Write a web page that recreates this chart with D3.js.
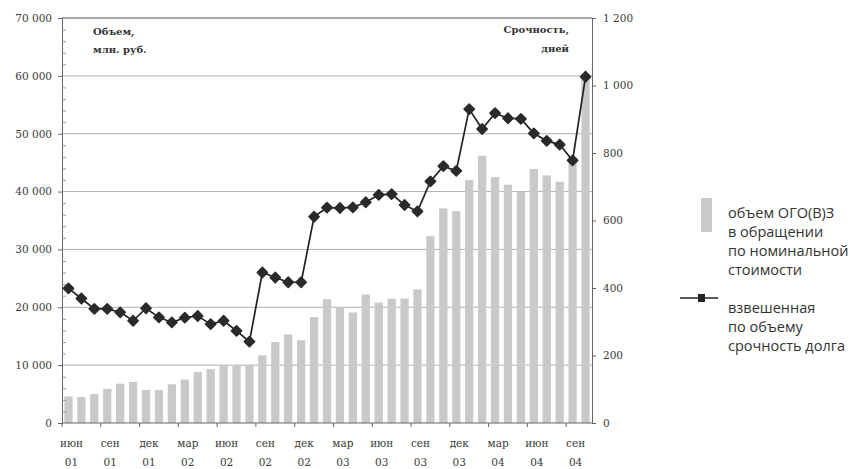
<!DOCTYPE html>
<html><head><meta charset="utf-8">
<script src="https://cdn.jsdelivr.net/npm/d3@7"></script>
<style>
html,body{margin:0;padding:0;background:#fff;}
svg{display:block;}
</style></head>
<body>
<script>
const categories = ["июн 01","июл 01","авг 01","сен 01","окт 01","ноя 01","дек 01","янв 02","фев 02","мар 02","апр 02","май 02","июн 02","июл 02","авг 02","сен 02","окт 02","ноя 02","дек 02","янв 03","фев 03","мар 03","апр 03","май 03","июн 03","июл 03","авг 03","сен 03","окт 03","ноя 03","дек 03","янв 04","фев 04","мар 04","апр 04","май 04","июн 04","июл 04","авг 04","сен 04","окт 04"];
const volume = [4600,4500,5000,5900,6800,7100,5700,5700,6700,7500,8800,9300,10000,9900,10000,11700,14000,15300,14300,18300,21400,20000,19100,22200,20800,21500,21500,23100,32300,37100,36600,42000,46200,42500,41200,40000,43900,42800,41700,46000,59800];
const maturity = [399,369,338,338,328,303,340,313,298,312,317,293,303,273,241,446,431,417,417,611,638,637,639,654,676,678,646,627,716,761,747,930,871,918,903,901,858,836,825,778,1026];
const tickMonths = ["июн","сен","дек","мар","июн","сен","дек","мар","июн","сен","дек","мар","июн","сен"];
const tickYears = ["01","01","01","02","02","02","02","03","03","03","03","04","04","04"];
const leftTicks = [0,10000,20000,30000,40000,50000,60000,70000];
const rightTicks = [0,200,400,600,800,1000,1200];
const legendBarLines = ["объем ОГО(В)З","в обращении","по номинальной","стоимости"];
const legendLineLines = ["взвешенная","по объему","срочность долга"];

const W = 863, H = 469;
const L = 62, R = 592, T = 18, B = 423;
const svg = d3.select("body").append("svg").attr("width", W).attr("height", H);
const serif = "'DejaVu Serif', 'Liberation Serif', serif";

const x = d3.scaleBand().domain(categories).range([L, R]).paddingInner(0.36).paddingOuter(0.18);
const step = x.step();
const yL = d3.scaleLinear().domain([0, 70000]).range([B, T]);
const yR = d3.scaleLinear().domain([0, 1200]).range([B, T]);
const fmt = v => d3.format(",")(v).replace(/,/g, " ");

// gridlines
svg.append("g").selectAll("line").data(leftTicks.filter(v => v > 0)).join("line")
  .attr("x1", L).attr("x2", R).attr("y1", d => yL(d)).attr("y2", d => yL(d))
  .attr("stroke", d => d === 70000 ? "#8a8a8a" : "#b0b0b0").attr("stroke-width", d => d === 70000 ? 1.3 : 1);

// bars
svg.append("g").selectAll("rect").data(categories).join("rect")
  .attr("x", d => x(d)).attr("width", x.bandwidth())
  .attr("y", (d, i) => yL(volume[i])).attr("height", (d, i) => B - yL(volume[i]))
  .attr("fill", "#c9c9c9");

// left axis
const gl = svg.append("g").attr("transform", `translate(${L},0)`)
  .call(d3.axisLeft(yL).tickValues(leftTicks).tickSize(4).tickPadding(6).tickFormat(fmt));
gl.select(".domain").attr("stroke", "#666");
gl.selectAll(".tick line").attr("stroke", "#666");
gl.selectAll("text").attr("font-family", serif).attr("font-size", 10.5).attr("fill", "#3a3a3a");
// minor ticks
const minor = d3.range(0, 70001, 2000).filter(v => v % 10000 !== 0);
svg.append("g").attr("transform", `translate(${L},0)`)
  .call(d3.axisRight(yL).tickValues(minor).tickSize(4).tickFormat(""))
  .call(g => g.select(".domain").remove())
  .selectAll("line").attr("stroke", "#999");

// right axis
const gr = svg.append("g").attr("transform", `translate(${R},0)`)
  .call(d3.axisRight(yR).tickValues(rightTicks).tickSize(4).tickPadding(7).tickFormat(fmt));
gr.select(".domain").attr("stroke", "#666");
gr.selectAll(".tick line").attr("stroke", "#666");
gr.selectAll("text").attr("font-family", serif).attr("font-size", 10.5).attr("fill", "#3a3a3a");

// bottom axis
svg.append("line").attr("x1", L).attr("x2", R).attr("y1", B).attr("y2", B).attr("stroke", "#666");
const tickCats = categories.filter((d, i) => i % 3 === 0);
const gx = svg.append("g");
gx.selectAll("line").data(tickCats).join("line")
  .attr("x1", d => x(d) - step * x.paddingInner() / 2)
  .attr("x2", d => x(d) - step * x.paddingInner() / 2)
  .attr("y1", B).attr("y2", B + 4).attr("stroke", "#666");
const xl = gx.selectAll("text").data(tickCats).join("text")
  .attr("text-anchor", "middle").attr("font-family", serif).attr("font-size", 10.5).attr("fill", "#3a3a3a");
xl.append("tspan").attr("x", d => x(d) + x.bandwidth() / 2 + 3).attr("y", 447).text((d, i) => tickMonths[i]);
xl.append("tspan").attr("x", d => x(d) + x.bandwidth() / 2 + 3).attr("y", 466).text((d, i) => tickYears[i]);

// line
const line = d3.line().x((d, i) => x(categories[i]) + x.bandwidth() / 2).y(d => yR(d));
svg.append("path").datum(maturity).attr("d", line).attr("fill", "none").attr("stroke", "#222").attr("stroke-width", 1.7);
const sym = d3.symbol().type(d3.symbolSquare).size(52);
svg.append("g").selectAll("path").data(maturity).join("path")
  .attr("d", sym)
  .attr("transform", (d, i) => `translate(${x(categories[i]) + x.bandwidth() / 2},${yR(d)}) rotate(45)`)
  .attr("fill", "#2a2a2a").attr("stroke", "#2a2a2a").attr("stroke-width", 1.6).attr("stroke-linejoin", "round");

// annotations
const ann = svg.append("g").attr("font-family", serif).attr("font-size", 10).attr("font-weight", "bold").attr("fill", "#333");
ann.append("text").attr("x", 93).attr("y", 35).text("Объем,");
ann.append("text").attr("x", 93).attr("y", 53).text("млн. руб.");
ann.append("text").attr("x", 569).attr("y", 33).attr("text-anchor", "end").text("Срочность,");
ann.append("text").attr("x", 569).attr("y", 52).attr("text-anchor", "end").text("дней");

// legend
const lg = svg.append("g").attr("font-family", "'Open Sans', 'Noto Sans', sans-serif").attr("font-size", 14.5).attr("fill", "#333");
lg.append("rect").attr("x", 701).attr("y", 198).attr("width", 11).attr("height", 34).attr("fill", "#c9c9c9");
lg.selectAll("text.lb").data(legendBarLines).join("text").attr("class", "lb")
  .attr("x", 728).attr("y", (d, i) => 218 + i * 19).text(d => d);
lg.append("line").attr("x1", 680).attr("x2", 718).attr("y1", 298).attr("y2", 298).attr("stroke", "#222").attr("stroke-width", 1.6);
lg.append("rect").attr("x", 698).attr("y", 294).attr("width", 7).attr("height", 8).attr("fill", "#222");
lg.selectAll("text.ll").data(legendLineLines).join("text").attr("class", "ll")
  .attr("x", 728).attr("y", (d, i) => 313 + i * 19).text(d => d);
</script>
</body></html>
